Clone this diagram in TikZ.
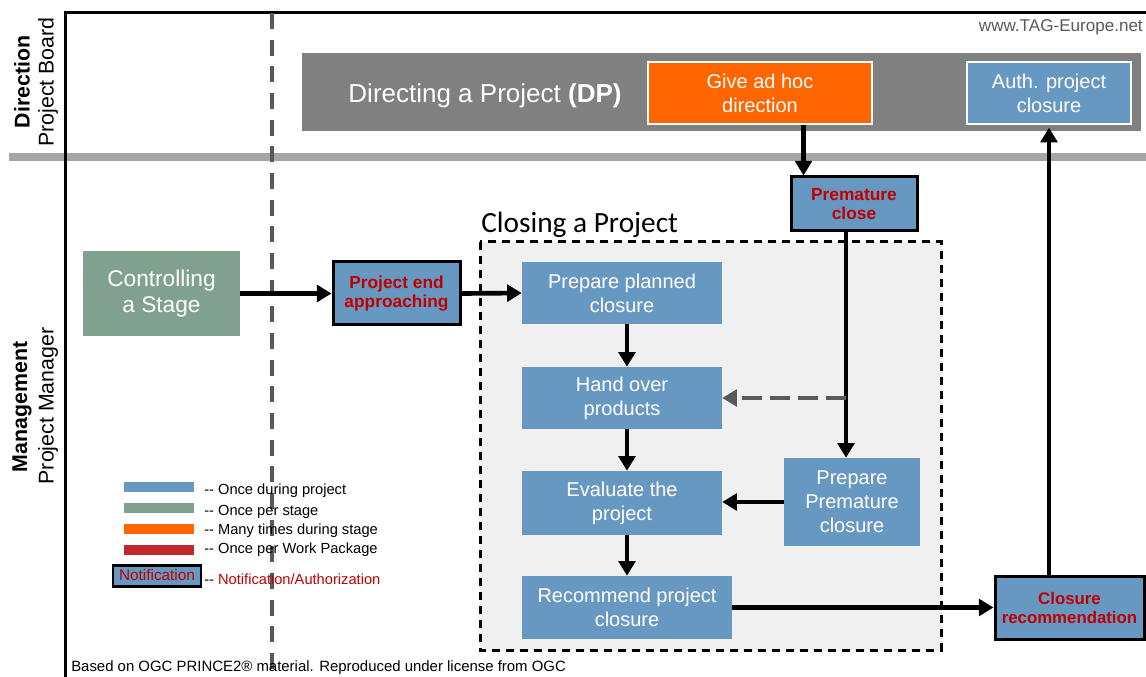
\documentclass[tikz,border=0pt]{standalone}
\usepackage{fontspec}
\setmainfont{Liberation Sans}
\newfontfamily\carlito{Carlito}
\usepackage{tikz}
\usetikzlibrary{arrows.meta}
\usetikzlibrary{positioning}
\definecolor{pblue}{RGB}{103,152,194}
\definecolor{pgreen}{RGB}{128,161,143}
\definecolor{porange}{RGB}{255,102,0}
\definecolor{pred}{RGB}{192,40,45}
\definecolor{notered}{RGB}{192,0,0}
\definecolor{dpgray}{RGB}{128,128,128}
\definecolor{bandgray}{RGB}{166,166,166}
\definecolor{dashgray}{RGB}{89,89,89}
\definecolor{cpfill}{RGB}{240,240,240}
\newcommand{\dd}{-{}-}
\tikzset{
  proc/.style={fill=pblue, text=white, align=center, inner sep=0pt,
    font=\fontsize{15}{18}\selectfont},
  dpbox/.style={proc, draw=white, line width=1.5pt},
  notebox/.style={fill=pblue, draw=black, line width=2.25pt, text=notered,
    align=center, inner sep=0pt, font=\bfseries\fontsize{13}{14}\selectfont},
  flow/.style={line width=3.5pt, -{Triangle[length=11pt,width=12.5pt]}},
  legtext/.style={anchor=west, inner sep=0pt, font=\fontsize{11}{13}\selectfont},
  lane/.style={rotate=90, inner sep=0pt, font=\fontsize{16}{19}\selectfont}
}
\begin{document}
\begin{tikzpicture}[x=0.75pt,y=-0.75pt]
\useasboundingbox (0,0) rectangle (1146,677);
%frame
\fill [bandgray] (9,153) rectangle (1146,161);
\draw [black, line width=2.25pt] (65,677)--(65,13)--(1146,13);
\draw [dashgray, line width=3pt, dash pattern=on 12pt off 8pt] (272,13)--(272,677);
\node [lane, font=\bfseries\fontsize{16}{19}\selectfont] at (22,82) {Direction};
\node [lane] at (48,82) {Project Board};
\node [lane, font=\bfseries\fontsize{16}{19}\selectfont] at (22,407) {Management};
\node [lane] at (48,406) {Project Manager};
\node [anchor=east, inner sep=0pt, text=dashgray, font=\fontsize{12.8}{14}\selectfont] (web) at (1143,27) {www.TAG-Europe.net};
%DP
\fill [dpgray] (302,53) rectangle (1141,131);
\node [text=white, inner sep=0pt, font=\fontsize{19.5}{22}\selectfont] (dp) at (485,96) {Directing a Project \textbf{(DP)}};
\node [dpbox, fill=porange, minimum width=168pt, minimum height=46.5pt] (adhoc) at (760,93) {Give ad hoc\\direction};
\node [dpbox, minimum width=123pt, minimum height=46.5pt] (auth) at (1049,93) {Auth. project\\closure};
%Closing a Project
\draw [cpfill, fill=cpfill] (480,242) rectangle (941,650);
\draw [black, line width=2.25pt, dash pattern=on 6pt off 4.5pt] (480,242) rectangle (941,650);
\node [anchor=base west, inner sep=0pt, font=\carlito\fontsize{22}{24}\selectfont] (cptitle) at (481,233) {Closing a Project};
\node [proc, fill=pgreen, minimum width=117.75pt, minimum height=63.75pt, font=\fontsize{17}{19}\selectfont] (ctrl) at (161.5,293.5) {Controlling\\a Stage};
\node [notebox, minimum width=95.25pt, minimum height=47.25pt] (pea) at (396.5,293.5) {Project end\\approaching};
\node [proc, minimum width=150pt, minimum height=46.5pt] (ppc) at (622,293) {Prepare planned\\closure};
\node [proc, minimum width=150pt, minimum height=46.5pt] (hop) at (622,398) {Hand over\\products};
\node [proc, minimum width=150pt, minimum height=48pt] (eval) at (622,503) {Evaluate the\\project};
\node [proc, minimum width=157.5pt, minimum height=47.25pt] (rec) at (627,607.5) {Recommend project\\closure};
\node [proc, minimum width=102pt, minimum height=66pt] (ppm) at (852,502) {Prepare\\Premature\\closure};
\node [notebox, minimum width=94.5pt, minimum height=40.5pt] (pcl) at (854,204) {Premature\\close};
\node [notebox, minimum width=111.75pt, minimum height=47.25pt, font=\bfseries\fontsize{12.6}{14}\selectfont] (crec) at (1069.5,608) {Closure\\recommendation};
%arrows
\coordinate (drop) at ([xshift=-6pt]pcl.south);
\coordinate (spine) at ([xshift=3.75pt]ppc.south);
\draw [flow] ([xshift=10.5pt]pcl.north west |- adhoc.south)--([xshift=10.5pt]pcl.north west);
\draw [flow] (ctrl.east)--(pea.west);
\draw [flow] (pea.east)--(ppc.west);
\draw [flow] (spine)--(spine |- hop.north);
\draw [flow] (spine |- hop.south)--(spine |- eval.north);
\draw [flow] (spine |- eval.south)--(spine |- rec.north);
\draw [flow] (drop)--(drop |- ppm.north);
\draw [flow, dashgray, line width=3pt, dash pattern=on 15pt off 6pt] (drop |- hop.east)--(hop.east);
\draw [flow] (ppm.west)--(ppm.west -| eval.east);
\draw [flow] (rec.east)--(rec.east -| crec.west);
\draw [flow, shorten >=2pt] (crec.north -| auth.south)--(auth.south);
%legend
\fill [pblue] (124,482) rectangle (194,492);
\fill [pgreen] (124,503) rectangle (194,513);
\fill [porange] (124,524) rectangle (194,534);
\fill [pred] (124,545) rectangle (194,555);
\node [legtext] (leg1) at (204,491) {\dd\ Once during project};
\node [legtext] (leg2) at (204,512) {\dd\ Once per stage};
\node [legtext] (leg3) at (204,531) {\dd\ Many times during stage};
\node [legtext] (leg4) at (204,550) {\dd\ Once per Work Package};
\node [draw=black, fill=pblue, line width=2pt, inner sep=0pt, minimum width=66pt, minimum height=16pt, text=notered, font=\fontsize{11.5}{13}\selectfont] (legnote) at (157,576) {\raisebox{2pt}{Notification}};
\node [legtext, text=notered] (leg5) at (204,579) {\textcolor{black}{\dd} Notification/Authorization};
%footer
\node [anchor=west, inner sep=0pt, font=\fontsize{11.2}{12}\selectfont] (foot) at (71,668) {Based on OGC PRINCE2\textregistered\ material. Reproduced under license from OGC};
\end{tikzpicture}
\end{document}
